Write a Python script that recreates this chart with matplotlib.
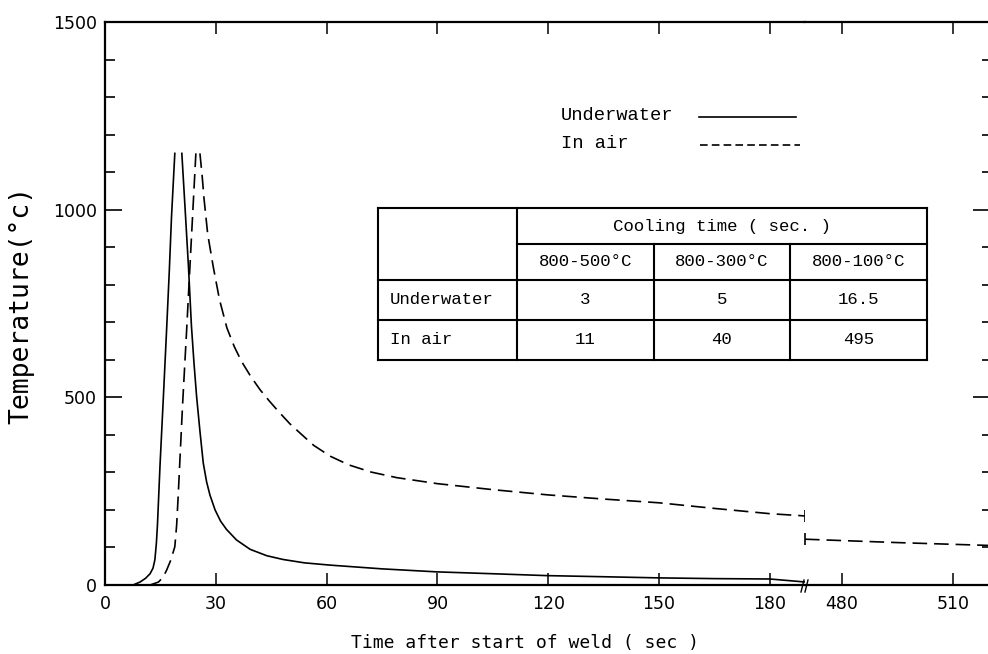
import matplotlib
matplotlib.use("Agg")
import matplotlib.pyplot as plt
from matplotlib.lines import Line2D
from matplotlib.ticker import MultipleLocator
import numpy as np

# --- data ---
# underwater weld thermal cycle (sec, degC); peak clipped at ~1150
uw_rise_t = [0, 7.6, 9.5, 11.0, 12.2, 13.0, 13.5, 13.9, 14.2, 14.9, 15.8, 16.7, 17.4, 18.0, 18.9]
uw_rise_T = [0, 0, 8, 18, 30, 45, 67, 110, 160, 320, 500, 685, 835, 980, 1150]
uw_fall_t = [20.8, 21.7, 22.6, 23.4, 24.1, 24.8, 25.7, 26.6, 27.5, 28.4, 29.8, 31.3,
             32.9, 35.6, 39.3, 43.8, 48.2, 54.0, 60.9, 75.0, 89.8, 105, 119.6, 135,
             149.7, 165, 180, 189.5]
uw_fall_T = [1150, 1000, 847, 690, 590, 502, 410, 325, 275, 240, 200, 170,
             148, 120, 95, 78, 68, 59, 53, 43, 35, 30, 25, 22,
             19, 17, 16, 8]

# in-air weld thermal cycle
air_rise_t = [0, 12.2, 14.5, 15.8, 16.7, 17.8, 18.9, 19.4, 19.8, 21.0, 22.1, 23.0, 23.8, 24.6]
air_rise_T = [0, 0, 8, 22, 40, 66, 102, 160, 235, 480, 679, 850, 1000, 1150]
air_fall_t = [25.7, 26.3, 26.8, 27.8, 29.3, 31.0, 33.0, 35.0, 37.0, 39.5, 42.0, 44.5,
              47.0, 50.0, 53.0, 56.5, 61.0, 66.0, 72.0, 79.0, 90.0, 105, 120, 135,
              150, 165, 180, 189.5]
air_fall_T = [1150, 1090, 1030, 935, 848, 760, 685, 635, 595, 555, 520, 490,
              462, 430, 403, 372, 343, 320, 301, 286, 270, 254, 240, 229,
              219, 204, 190, 184]
air_late_t = [470, 495, 521]
air_late_T = [122, 113, 105]

x_ticks_1 = [0, 30, 60, 90, 120, 150, 180]
x_ticks_2 = [480, 510]
y_ticks = [0, 500, 1000, 1500]

table_cols = ["800-500°C", "800-300°C", "800-100°C"]
table_rows = ["Underwater", "In air"]
table_vals = [["3", "5", "16.5"], ["11", "40", "495"]]

plt.rcParams["font.family"] = "DejaVu Sans"
plt.rcParams["lines.scale_dashes"] = False
mono = "Liberation Mono"

W, H = 988, 654
fig = plt.figure(figsize=(W / 100, H / 100), dpi=100)


def fx(px):
    return px / W


def fy(py):
    return 1 - py / H


ax1 = fig.add_axes([fx(105), fy(585), fx(805) - fx(105), fy(22) - fy(585)])
ax2 = fig.add_axes([fx(805), fy(585), fx(991) - fx(805), fy(22) - fy(585)], sharey=ax1)

curve_dash = (10.5, 5)
uw_t = uw_rise_t + [np.nan] + uw_fall_t
uw_T = uw_rise_T + [np.nan] + uw_fall_T
air_t = air_rise_t + [np.nan] + air_fall_t
air_T = air_rise_T + [np.nan] + air_fall_T

ax1.plot(uw_t, uw_T, color="k", lw=1.2)
ax1.plot(air_t, air_T, color="k", lw=1.2, dashes=curve_dash)
ax1.plot(air_fall_t[-1:], air_fall_T[-1:], marker="|", ms=8, mew=1.2, color="k", clip_on=False)
ax2.plot(air_late_t, air_late_T, color="k", lw=1.2, dashes=curve_dash)
ax2.plot(air_late_t[:1], air_late_T[:1], marker="|", ms=8, mew=1.2, color="k", clip_on=False)

ax1.set_xlim(0, 189.5)
ax2.set_xlim(470, 520.3)
ax1.set_ylim(0, 1500)

for ax in (ax1, ax2):
    for s in ax.spines.values():
        s.set_linewidth(1.6)
ax1.spines["right"].set_visible(False)
ax2.spines["left"].set_visible(False)

ax1.set_xticks(x_ticks_1)
ax2.set_xticks(x_ticks_2)
for ax in (ax1, ax2):
    ax.tick_params(axis="x", direction="in", top=True, length=8.5, width=1.1,
                   labelsize=12.5, pad=7)

ax1.set_yticks(y_ticks)
ax1.yaxis.set_minor_locator(MultipleLocator(100))
ax1.tick_params(axis="y", which="major", direction="in", length=12, width=1.2,
                labelsize=12.5, pad=6, right=False)
ax1.tick_params(axis="y", which="minor", direction="in", length=7, width=1.2, right=False)
ax2.tick_params(axis="y", which="major", direction="in", left=False, labelleft=False,
                right=True, length=13, width=1.2)
ax2.tick_params(axis="y", which="minor", direction="in", left=False, right=True,
                length=6.5, width=1.2)

# axis break mark
for dx in (0, 4):
    fig.add_artist(Line2D([fx(801 + dx), fx(804 + dx)], [fy(592), fy(580)], color="k", lw=1))

# the original labels are widely letter-spaced; a monospaced sans gets close
fig.text(fx(21), fy(305), "Temperature(°c)", rotation=90, ha="center", va="center",
         family="DejaVu Sans Mono", fontsize=19)
fig.text(fx(525), fy(643), "Time after start of weld ( sec )", ha="center", va="center",
         family="DejaVu Sans Mono", fontsize=13)

# legend drawn by hand: text on the left, line sample on the right
fig.text(fx(561), fy(116), "Underwater", family=mono, fontsize=13.5, va="center")
fig.text(fx(561), fy(144), "In air", family=mono, fontsize=13.5, va="center")
fig.add_artist(Line2D([fx(699), fx(796)], [fy(117), fy(117)], color="k", lw=1.2))
fig.add_artist(Line2D([fx(700), fx(800)], [fy(145), fy(145)], color="k", lw=1.2, dashes=(5.5, 3)))

# cooling time table
xe = [378, 517, 654, 790, 927]
ye = [208, 244, 280, 320, 360]
lw_t = 1.5


def hline(y, x0, x1):
    fig.add_artist(Line2D([fx(x0), fx(x1)], [fy(y), fy(y)], color="k", lw=lw_t))


def vline(x, y0, y1):
    fig.add_artist(Line2D([fx(x), fx(x)], [fy(y0), fy(y1)], color="k", lw=lw_t))


hline(ye[0], xe[0], xe[-1])
hline(ye[1], xe[1], xe[-1])
hline(ye[2], xe[0], xe[-1])
hline(ye[3], xe[0], xe[-1])
hline(ye[4], xe[0], xe[-1])
vline(xe[0], ye[0], ye[-1])
vline(xe[1], ye[0], ye[-1])
vline(xe[2], ye[1], ye[-1])
vline(xe[3], ye[1], ye[-1])
vline(xe[4], ye[0], ye[-1])

tfs = 12.5
fig.text(fx((xe[1] + xe[4]) / 2), fy((ye[0] + ye[1]) / 2), "Cooling time ( sec. )",
         family=mono, fontsize=tfs, ha="center", va="center")
for j, c in enumerate(table_cols):
    fig.text(fx((xe[j + 1] + xe[j + 2]) / 2), fy((ye[1] + ye[2]) / 2), c,
             family=mono, fontsize=tfs, ha="center", va="center")
for i, r in enumerate(table_rows):
    yc = fy((ye[i + 2] + ye[i + 3]) / 2)
    fig.text(fx(xe[0] + 12), yc, r, family=mono, fontsize=tfs, ha="left", va="center")
    for j, v in enumerate(table_vals[i]):
        fig.text(fx((xe[j + 1] + xe[j + 2]) / 2), yc, v, family=mono, fontsize=tfs,
                 ha="center", va="center")

fig.savefig("out.png", dpi=100)
